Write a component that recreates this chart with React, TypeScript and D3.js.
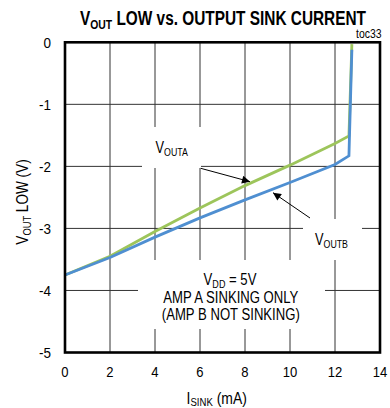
import React from 'react';
import * as d3 from 'd3';

const xTicks = [0, 2, 4, 6, 8, 10, 12, 14];
const yTicks = [0, -1, -2, -3, -4, -5];
const sinkA = [0, 2, 4, 6, 8, 10, 12, 12.62, 12.75];
const voutA = [-3.75, -3.45, -3.05, -2.67, -2.31, -1.98, -1.63, -1.51, -0.03];
const sinkB = [0, 2, 4, 6, 8, 10, 12, 12.62, 12.75];
const voutB = [-3.75, -3.47, -3.14, -2.83, -2.54, -2.26, -1.97, -1.83, -0.12];

const FONT = "'Liberation Sans', Arial, sans-serif";
const W = 390, H = 408;
const L = 65, R = 380, T = 42.3, B = 352.5;

const tr = (x: number, y: number, s: number, rot = 0) =>
  `translate(${x},${y})${rot ? ` rotate(${rot})` : ''} scale(${s},1)`;

export default function App() {
  const x = d3.scaleLinear().domain([0, 14]).range([L, R]);
  const y = d3.scaleLinear().domain([-5, 0]).range([B, T]);
  const line = d3.line<[number, number]>().x(d => x(d[0])).y(d => y(d[1]));
  const dataA: [number, number][] = sinkA.map((v, i) => [v, voutA[i]]);
  const dataB: [number, number][] = sinkB.map((v, i) => [v, voutB[i]]);

  return (
    <svg width={W} height={H} style={{ position: 'absolute', left: 0, top: 0, background: '#fff' }} fontFamily={FONT}>
      <defs>
        <marker id="ah" viewBox="0 0 10 10" refX="10" refY="5" markerWidth="11" markerHeight="8" markerUnits="userSpaceOnUse" orient="auto">
          <path d="M0,0 L10,5 L0,10 z" fill="#000" />
        </marker>
      </defs>
      {/* grid */}
      {xTicks.slice(1, -1).map(t => (
        <line key={'gx' + t} x1={x(t)} x2={x(t)} y1={T} y2={B} stroke="#333" strokeWidth={1} />
      ))}
      {yTicks.slice(1, -1).map(t => (
        <line key={'gy' + t} x1={L} x2={R} y1={y(t)} y2={y(t)} stroke="#333" strokeWidth={1} />
      ))}
      {/* label backgrounds */}
      <rect x={142} y={127} width={59} height={41} fill="#fff" />
      <rect x={303} y={219} width={59} height={41} fill="#fff" />
      <rect x={138} y={260} width={187} height={69} fill="#fff" />
      {/* data */}
      <path d={line(dataA) || ''} fill="none" stroke="#9DC55B" strokeWidth={2.8} />
      <path d={line(dataB) || ''} fill="none" stroke="#4F8FD1" strokeWidth={2.8} />
      {/* frame */}
      <rect x={L} y={T} width={R - L} height={B - T} fill="none" stroke="#000" strokeWidth={2.6} />
      {/* arrows */}
      <line x1={200.7} y1={168.3} x2={250} y2={181.7} stroke="#000" strokeWidth={1} markerEnd="url(#ah)" />
      <line x1={310} y1={218} x2={273} y2={192.7} stroke="#000" strokeWidth={1} markerEnd="url(#ah)" />
      {/* annotations */}
      <text transform={tr(171.7, 153.3, 0.8)} textAnchor="middle" fontSize={16}>
        V<tspan fontSize={11} dy={3}>OUTA</tspan>
      </text>
      <text transform={tr(331.5, 245, 0.8)} textAnchor="middle" fontSize={16}>
        V<tspan fontSize={11} dy={3}>OUTB</tspan>
      </text>
      <text transform={tr(230, 285, 0.82)} textAnchor="middle" fontSize={16}>
        V<tspan fontSize={11} dy={3}>DD</tspan><tspan dy={-3}> = 5V</tspan>
      </text>
      <text transform={tr(230.8, 302.5, 0.82)} textAnchor="middle" fontSize={16}>AMP A SINKING ONLY</text>
      <text transform={tr(230.8, 319.5, 0.82)} textAnchor="middle" fontSize={16}>(AMP B NOT SINKING)</text>
      {/* tick labels */}
      {yTicks.map(t => (
        <text key={'ty' + t} transform={tr(51, y(t) + 5.5, 0.87)} textAnchor="end" fontSize={15.5}>{t}</text>
      ))}
      {xTicks.map(t => (
        <text key={'tx' + t} transform={tr(x(t), 377, 0.87)} textAnchor="middle" fontSize={15}>{t}</text>
      ))}
      {/* axis titles */}
      <text transform={tr(216.7, 403.5, 0.87)} textAnchor="middle" fontSize={16}>
        I<tspan fontSize={11} dy={2.5}>SINK</tspan><tspan dy={-2.5}> (mA)</tspan>
      </text>
      <text transform={tr(28, 202, 0.85, -90)} textAnchor="middle" fontSize={16}>
        V<tspan fontSize={11} dy={3}>OUT</tspan><tspan dy={-3}> LOW (V)</tspan>
      </text>
      {/* title */}
      <text transform={tr(223, 25, 0.77)} textAnchor="middle" fontSize={20} fontWeight="bold">
        V<tspan fontSize={13.5} dy={4}>OUT</tspan><tspan dy={-4}> LOW vs. OUTPUT SINK CURRENT</tspan>
      </text>
      <text transform={tr(381.5, 38, 0.87)} textAnchor="end" fontSize={12}>toc33</text>
    </svg>
  );
}
